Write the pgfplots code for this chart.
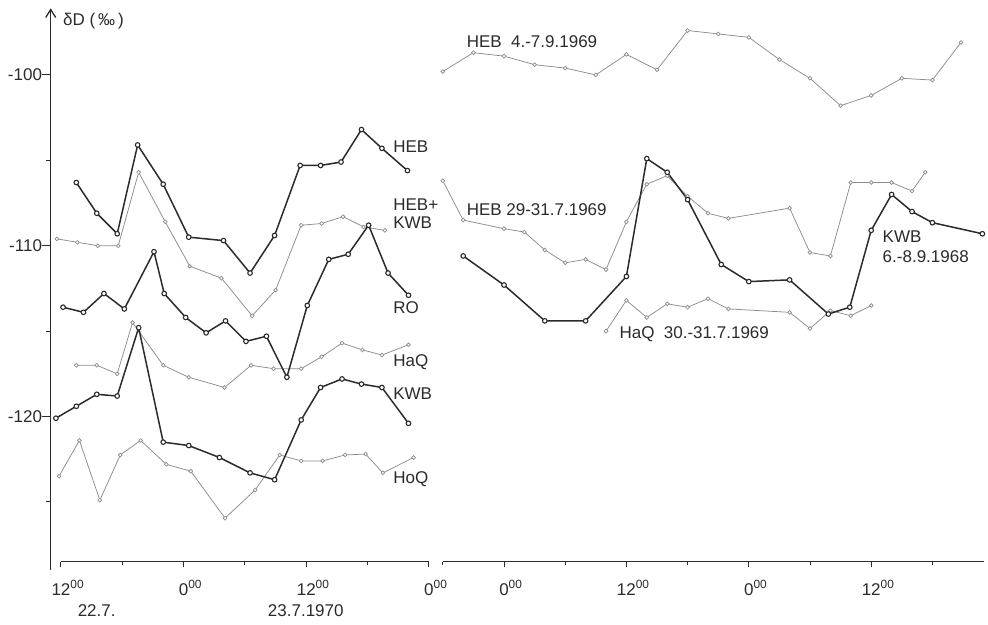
\documentclass[border=0pt]{standalone}
\usepackage{fontspec}
\setmainfont{Liberation Sans}
\usepackage{pgfplots}
\pgfplotsset{compat=1.18}
\usetikzlibrary{arrows.meta}

\definecolor{ink}{HTML}{2B2B2B}
\definecolor{pale}{HTML}{8C8C8C}
\newcommand{\chartfont}{\fontsize{17}{20}\selectfont}
% clock time with raised minutes, the hour digits centred on the tick
\newcommand{\hr}[1]{#1\rlap{\textsuperscript{00}}}

\tikzset{tag/.style={anchor=base west, inner sep=0pt, text=ink, font=\chartfont}}

\pgfplotsset{
  heavy/.style={color=ink, line width=1.5pt, mark=*, mark size=2.3pt,
    mark options={fill=white, draw=ink, line width=1.1pt}},
  light/.style={color=pale, line width=0.75pt, mark=*, mark size=1.9pt,
    mark options={fill=white, draw=pale, line width=0.7pt}},
  panel/.style={
    anchor=south west, y=17.08pt, ymin=-128.5, ymax=-96.1,
    clip=false, axis x line=bottom, axis y line=none,
    x axis line style={-, line width=1.1pt, ink},
    xtick align=outside, major tick length=5.7pt, minor tick length=2.8pt,
    tick style={line width=1pt, ink},
    xtick={0,12,24,36},
    xticklabel style={font=\chartfont, text=ink, inner sep=0pt, anchor=north, yshift=-13pt},
    font=\chartfont, ytick=\empty,
  },
}

\begin{document}
\begin{tikzpicture}
\useasboundingbox (0,0) rectangle (988pt,624pt);

% vertical delta-D scale
\begin{axis}[
  at={(50.7pt,62.3pt)}, anchor=south west,
  x=1pt, y=17.08pt, xmin=0, xmax=1, ymin=-128.5, ymax=-96.1,
  axis x line=none, axis y line=left,
  y axis line style={line width=1.1pt, ink, shorten <=-8.2pt,
    -{Straight Barb[length=8pt,width=10pt,line width=1.3pt]}},
  ytick align=outside, major tick length=8.5pt, minor tick length=4.5pt,
  tick style={line width=1pt, ink},
  ytick={-120,-110,-100}, yticklabels={-120,-110,-100},
  minor ytick={-125,-115,-105},
  yticklabel style={font=\chartfont, text=ink, inner sep=0pt, xshift=0pt},
  xtick=\empty,
]
\end{axis}

% 22.-23.7.1970, hours after 12:00 on 22.7.
\begin{axis}[panel, at={(61pt,62.3pt)}, x=10.22pt, xmin=0, xmax=36,
  xticklabels={\hr{12},\hr{0},\hr{12},\hr{0}},
  minor xtick={6,18,30}]
\addplot[light] coordinates {(-0.4,-109.6) (1.6,-109.8) (3.6,-110.0) (5.6,-110.0) (7.6,-105.7) (10.2,-108.6) (12.6,-111.2) (15.7,-111.9) (18.7,-114.1) (21.0,-112.6) (23.5,-108.8) (25.5,-108.7) (27.6,-108.3) (29.6,-108.9) (31.7,-109.1)};
\addplot[light] coordinates {(1.5,-117.0) (3.5,-117.0) (5.5,-117.5) (7.0,-114.5) (10.0,-117.0) (12.5,-117.7) (16.0,-118.3) (18.6,-117.0) (20.8,-117.2) (23.5,-117.2) (25.5,-116.5) (27.5,-115.7) (29.5,-116.1) (31.4,-116.4) (34.0,-115.8)};
\addplot[light] coordinates {(-0.2,-123.5) (1.8,-121.4) (3.8,-124.9) (5.8,-122.25) (7.8,-121.4) (10.3,-122.8) (12.7,-123.2) (16.05,-125.95) (19.0,-124.3) (21.4,-122.25) (23.5,-122.6) (25.6,-122.6) (27.8,-122.25) (29.8,-122.2) (31.5,-123.3) (34.5,-122.4)};
\addplot[heavy] coordinates {(1.5,-106.3) (3.5,-108.1) (5.5,-109.3) (7.5,-104.1) (10.0,-106.4) (12.5,-109.5) (15.9,-109.7) (18.5,-111.6) (20.9,-109.4) (23.4,-105.3) (25.4,-105.3) (27.4,-105.1) (29.4,-103.2) (31.4,-104.3) (33.9,-105.6)};
\addplot[heavy] coordinates {(0.2,-113.6) (2.2,-113.9) (4.2,-112.8) (6.2,-113.7) (9.1,-110.35) (10.1,-112.8) (12.2,-114.2) (14.2,-115.1) (16.1,-114.4) (18.1,-115.6) (20.1,-115.3) (22.1,-117.7) (24.1,-113.5) (26.2,-110.8) (28.1,-110.5) (30.1,-108.8) (32.0,-111.6) (34.0,-112.9)};
\addplot[heavy] coordinates {(-0.5,-120.1) (1.5,-119.4) (3.5,-118.7) (5.5,-118.8) (7.6,-114.8) (10.0,-121.5) (12.5,-121.7) (15.5,-122.4) (18.5,-123.3) (20.9,-123.7) (23.5,-120.2) (25.4,-118.3) (27.5,-117.8) (29.4,-118.1) (31.4,-118.3) (34.0,-120.4)};
\node[tag] at (axis cs:0.2,-97.13) {δD (\,‰\,)};
\node[tag] at (axis cs:32.5,-104.57) {HEB};
\node[tag] at (axis cs:32.5,-107.96) {HEB+};
\node[tag] at (axis cs:32.5,-109.02) {KWB};
\node[tag] at (axis cs:32.5,-113.99) {RO};
\node[tag] at (axis cs:32.5,-117.08) {HaQ};
\node[tag] at (axis cs:32.5,-118.99) {KWB};
\node[tag] at (axis cs:32.5,-123.90) {HoQ};
\node[tag, anchor=base] at (axis cs:3.49,-131.73) {22.7.};
\node[tag, anchor=base] at (axis cs:23.95,-131.73) {23.7.1970};
\end{axis}

% comparison series, hours after 0:00 of the first day
\begin{axis}[panel, at={(442.8pt,62.3pt)}, x=10.2pt, xmin=-6, xmax=47.05,
  xticklabels={\hr{0},\hr{12},\hr{0},\hr{12}},
  minor xtick={-6,6,18,30,42}]
\addplot[light] coordinates {(-6,-99.8) (-3,-98.7) (0,-98.9) (3,-99.4) (6,-99.6) (9,-100.0) (12,-98.8) (15,-99.7) (18,-97.4) (21,-97.6) (24,-97.8) (27,-99.1) (30,-100.2) (33,-101.8) (36,-101.2) (39,-100.2) (42,-100.3) (44.8,-98.1)};
\addplot[light] coordinates {(-6,-106.2) (-4,-108.5) (0,-109.0) (2,-109.2) (4,-110.25) (6,-111.0) (8,-110.8) (10,-111.4) (12,-108.6) (14,-106.4) (16,-105.9) (18,-107.1) (20,-108.1) (22,-108.4) (28,-107.8) (30,-110.4) (32,-110.6) (34,-106.3) (36,-106.3) (38,-106.3) (40,-106.8) (41.3,-105.7)};
\addplot[light] coordinates {(10,-115.0) (12,-113.2) (14,-114.2) (16,-113.4) (18,-113.6) (20,-113.1) (22,-113.7) (28,-113.9) (30,-114.85) (32,-113.8) (34,-114.1) (36,-113.5)};
\addplot[heavy] coordinates {(-4,-110.6) (0,-112.3) (4,-114.4) (8,-114.4) (12,-111.8) (14,-104.9) (16,-105.7) (18,-107.3) (21.3,-111.1) (24,-112.1) (28,-112.0) (31.8,-114.0) (33.9,-113.6) (36,-109.1) (38,-107.0) (40,-108.0) (42,-108.65) (46.9,-109.3)};
\node[tag] at (axis cs:-3.67,-98.42) {HEB\ \ 4.-7.9.1969};
\node[tag] at (axis cs:-3.67,-108.25) {HEB 29-31.7.1969};
\node[tag] at (axis cs:37.11,-109.83) {KWB};
\node[tag] at (axis cs:37.11,-111.01) {6.-8.9.1968};
\node[tag] at (axis cs:11.31,-115.46) {HaQ\ \ 30.-31.7.1969};
\end{axis}
\end{tikzpicture}
\end{document}
